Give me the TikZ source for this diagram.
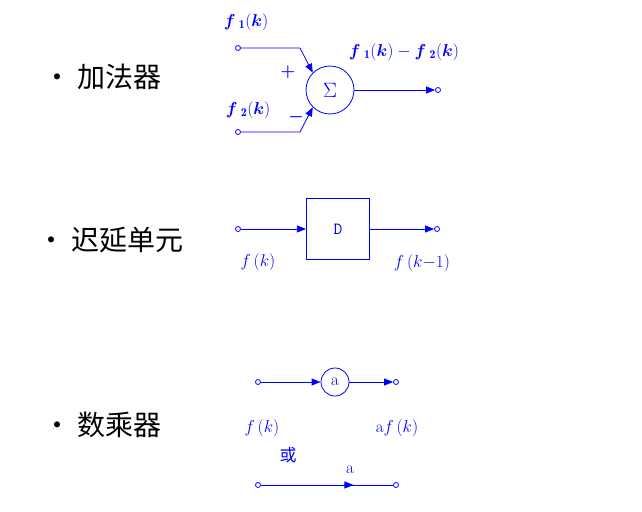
\documentclass[tikz,border=0pt]{standalone}
\usepackage{amsmath}
\usepackage{fontspec}
\newfontfamily\cjk{Noto Sans CJK SC}
\usetikzlibrary{arrows.meta, decorations.markings}
\definecolor{sigblue}{RGB}{0,0,255}
\tikzset{
  port/.style={circle, draw=sigblue, thick, fill=white, inner sep=0pt, minimum size=5pt},
  wire/.style={sigblue, thick},
  flow/.style={wire, -{Triangle[length=9pt, width=7pt]}},
  midflow/.style={wire, postaction={decorate}, decoration={markings,
      mark=at position 0.7 with {\arrow{Triangle[length=9pt, width=7pt]}}}},
  lbl/.style={text=sigblue, font=\fontsize{17}{18}\selectfont},
  title/.style={font=\fontsize{28}{30}\cjk},
}
\begin{document}
\begin{tikzpicture}[x=1pt, y=-1pt]
        \useasboundingbox (0,0) rectangle (642,511);

        % Adder
        \node[title, anchor=west] (addtext) at (40,77) {\textbullet\ 加法器};
        \node[circle, draw=sigblue, thick, minimum size=48pt, text=sigblue,
              font=\fontsize{20}{22}\selectfont] (sum) at (330,90) {$\Sigma$};
        \node[port] (in1) at (238,48) {};
        \node[port] (in2) at (238,132) {};
        \node[port] (out1) at (438,90) {};
        \coordinate (b1) at (300,48);
        \coordinate (b2) at (300,132);
        \draw[flow] (in1) -- (b1) -- (sum.135);
        \draw[flow] (in2) -- (b2) -- (sum.225);
        \draw[flow] (sum) -- (out1);
        \node[lbl] (f1) at (246,22) {$\boldsymbol{f\,}\mathbf{_1(}\boldsymbol{k}\mathbf{)}$};
        \node[lbl] (f2) at (248,110) {$\boldsymbol{f\,}\mathbf{_2(}\boldsymbol{k}\mathbf{)}$};
        \node[lbl] (fdiff) at (404,52) {$\boldsymbol{f\,}\mathbf{_1(}\boldsymbol{k}\mathbf{)}-\boldsymbol{f\,}\mathbf{_2(}\boldsymbol{k}\mathbf{)}$};
        \node[lbl] (plus) at (288,72) {$\boldsymbol{+}$};
        \node[lbl] (minus) at (296,117) {$\boldsymbol{-}$};

        % Delay unit
        \node[title, anchor=west] (delaytext) at (34,240) {\textbullet\ 迟延单元};
        \node[draw=sigblue, very thick, minimum width=63pt, minimum height=61pt,
              text=sigblue, font=\ttfamily\fontsize{17}{18}\selectfont] (delay) at (338,229) {D};
        \node[port] (in3) at (238,229) {};
        \node[port] (out3) at (437,229) {};
        \draw[flow] (in3) -- (delay);
        \draw[flow] (delay) -- (out3);
        \node[lbl] (fk) at (258,262) {$f\,(k)$};
        \node[lbl] (fk1) at (422,263) {$f\,(k{-}1)$};

        % Scalar multiplier
        \node[title, anchor=west] (multext) at (40,425) {\textbullet\ 数乘器};
        \node[circle, draw=sigblue, thick, minimum size=28pt, inner sep=0pt,
              text=sigblue, font=\fontsize{17}{18}\selectfont] (gain) at (335,382) {a};
        \node[port] (in4) at (258,382) {};
        \node[port] (out4) at (396,382) {};
        \draw[flow] (in4) -- (gain);
        \draw[flow] (gain) -- (out4);
        \node[lbl] (fk2) at (262,428) {$f\,(k)$};
        \node[lbl] (afk) at (397,428) {a$f\,(k)$};
        \node[lbl, font=\fontsize{17}{18}\cjk] (or) at (288,455) {或};
        \node[port] (in5) at (258,485) {};
        \node[port] (out5) at (396,485) {};
        \draw[midflow] (in5) -- (out5);
        \node[lbl] (gain2) at (350,470) {a};
\end{tikzpicture}
\end{document}
